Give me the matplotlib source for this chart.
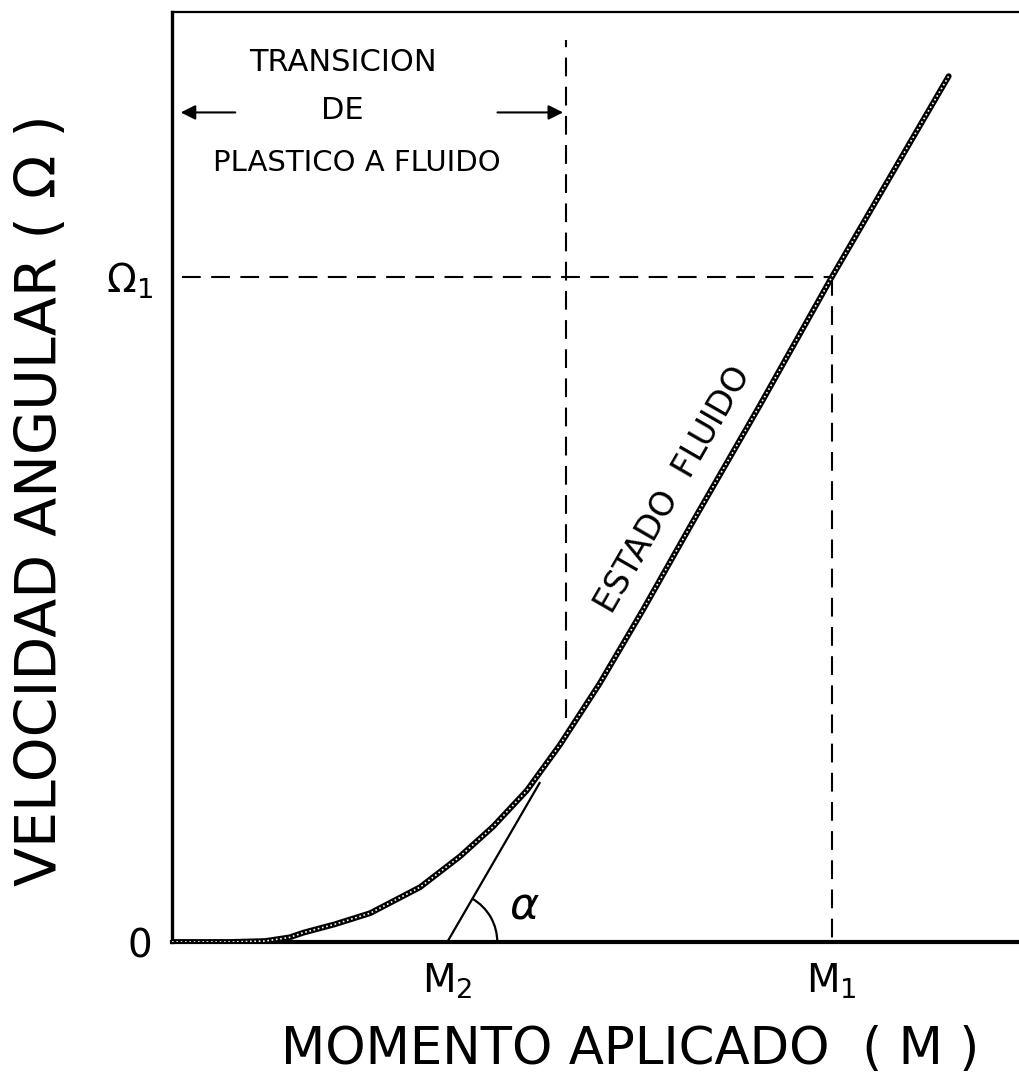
import numpy as np
import matplotlib.pyplot as plt
from matplotlib.patches import Arc

# curve (x = momento, y = velocidad angular), arbitrary 0-100 units
m_curve = np.array([0.0, 6.8, 11.0, 13.9, 15.5, 19.2, 23.4, 29.3, 34.0, 37.9,
                    41.9, 45.8, 50.5, 55.6, 61.5, 69.4, 77.9, 91.7])
w_curve = np.array([0.0, 0.0, 0.1, 0.5, 1.0, 1.9, 3.1, 5.9, 9.2, 12.4,
                    16.3, 21.2, 27.8, 35.7, 45.2, 57.7, 71.5, 93.1])

# reference values
M2 = 32.5          # tangent foot
M1 = 77.9
Omega1 = 71.5
m_trans = 46.5     # end of transition zone
tangent_m = [M2, 43.4]
tangent_w = [0.0, 17.1]

x_ticks = [M2, M1]
x_ticklabels = [r"$\mathregular{M_2}$", r"$\mathregular{M_1}$"]
y_ticks = [0, Omega1]
y_ticklabels = ["0", r"$\Omega_1$"]

plt.rcParams['mathtext.fontset'] = 'dejavusans'

fig = plt.figure(figsize=(10.19, 10.80), dpi=100)
ax = fig.add_axes([172/1019, 138/1080, 847/1019, 930/1080])
ax.set_xlim(0, 100)
ax.set_ylim(0, 100)

ax.spines['right'].set_visible(False)
ax.spines['left'].set_linewidth(2.4)
ax.spines['bottom'].set_linewidth(3.0)
ax.spines['top'].set_linewidth(1.6)

# main curve, thick with a grainy look like the scanned ink
ax.plot(m_curve, w_curve, color='black', lw=4.2, solid_capstyle='round',
        solid_joinstyle='round', zorder=3)
ax.plot(m_curve, w_curve, color='white', lw=1.2, ls=(0, (1.0, 1.6)), zorder=4)

# tangent and angle
ax.plot(tangent_m, tangent_w, color='black', lw=1.6)
ang = np.degrees(np.arctan2(tangent_w[1] - tangent_w[0], tangent_m[1] - tangent_m[0]))
ax.add_patch(Arc((M2, 0), 2*50/8.47, 2*50/9.30, theta1=0, theta2=ang, lw=1.6, color='black'))
ax.text(41.6, 3.9, r"$\alpha$", fontsize=32, ha='center', va='center')

# dashed guides
dash = (0, (9, 5))
ax.plot([m_trans, m_trans], [24.1, 97.0], color='black', lw=1.5, ls=dash)
ax.plot([1.2, M1], [Omega1, Omega1], color='black', lw=1.5, ls=dash)
ax.plot([M1, M1], [Omega1, 0], color='black', lw=1.5, ls=dash)

# transition note
ax.text(20.2, 94.6, "TRANSICION", fontsize=22, ha='center', va='center')
ax.text(20.1, 89.4, "DE", fontsize=22, ha='center', va='center')
ax.text(21.8, 83.8, "PLASTICO A FLUIDO", fontsize=21, ha='center', va='center')
ax.annotate("", xy=(0.7, 89.2), xytext=(7.8, 89.2),
            arrowprops=dict(arrowstyle='-|>', color='black', lw=1.5, mutation_scale=22))
ax.annotate("", xy=(m_trans, 89.2), xytext=(38.1, 89.2),
            arrowprops=dict(arrowstyle='-|>', color='black', lw=1.5, mutation_scale=22))

ax.text(59.2, 48.6, "ESTADO  FLUIDO", fontsize=24, rotation=60,
        ha='center', va='center', rotation_mode='anchor')

ax.set_xticks(x_ticks)
ax.set_xticklabels(x_ticklabels, fontsize=28)
ax.set_yticks(y_ticks)
ax.set_yticklabels(y_ticklabels, fontsize=28)
ax.tick_params(length=0, pad=14)

ax.set_xlabel("MOMENTO APLICADO  ( M )", fontsize=37)
ax.xaxis.set_label_coords((630 - 172)/847, -(1050 - 942)/930)
ax.xaxis.label.set_va('center')
ax.set_ylabel("VELOCIDAD ANGULAR ( Ω )", fontsize=41)
ax.yaxis.set_label_coords(-(172 - 42)/847, (942 - 500)/930)
ax.yaxis.label.set_va('center')

fig.savefig("out.png", dpi=100)
